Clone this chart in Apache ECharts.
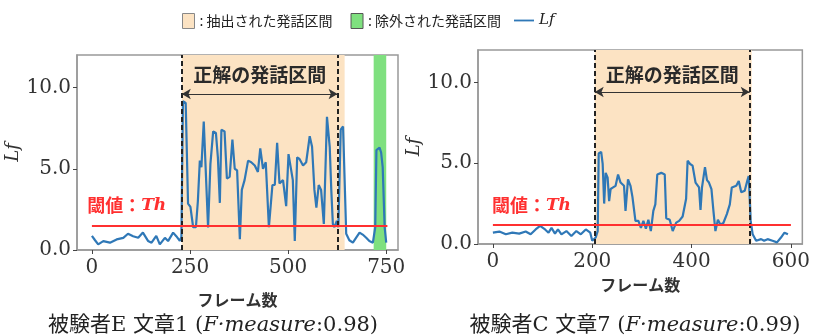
<!DOCTYPE html>
<html>
<head>
<meta charset="utf-8">
<script src="https://cdn.jsdelivr.net/npm/echarts@6/dist/echarts.min.js"></script>
<style>html,body{margin:0;padding:0;background:#fff;}#c{width:813px;height:336px;}</style>
</head>
<body>
<div id="c"></div>
<script>
// ---- Data ----
const leftFrames = [0,8,16,29,46,63,80,92,105,118,130,143,152,164,173,186,194,207,215,224,228,
  232,239,245,251,258,265,270,275,279,285,290,296,302,309,316,321,326,330,338,344,351,358,364,370,377,382,389,398,406,415,423,429,436,443,451,460,466,472,478,487,495,501,506,512,517,523,529,538,546,555,561,567,572,578,584,591,599,606,610,614,618,624,628,634,640,644,648,656,665,673,682,690,699,707,716,722,725,733,737,741,746,750];
const leftLf = [0.87,0.6,0.35,0.55,0.45,0.65,0.75,1.0,0.85,0.75,1.07,0.56,0.45,0.87,0.35,0.75,0.55,1.07,0.85,0.56,0.8,
  9.15,9.05,2.85,2.65,1.4,1.4,3.0,5.5,5.1,7.9,8.0,1.38,5.3,7.3,7.2,5.7,2.9,7.4,7.3,4.4,4.5,6.8,5.0,4.9,0.66,3.7,4.3,5.5,5.4,5.2,4.8,6.25,5.0,5.4,1.4,4.0,4.0,6.6,4.1,4.3,2.7,5.9,6.0,4.3,0.55,5.7,5.6,5.2,5.4,7.0,6.35,3.7,2.6,4.0,3.7,1.6,8.2,6.35,3.7,1.6,1.4,1.8,1.4,7.4,7.6,4.3,1.0,0.6,0.45,0.75,1.07,0.95,0.75,0.55,0.45,1.4,6.15,6.3,6.0,5.1,1.4,0.45];
const rightFrames = [0,13,26,39,53,66,76,86,95,105,112,118,125,131,138,148,158,168,177,187,196,200,207,211,
  213,218,221,224,227,231,234,237,242,247,252,257,264,267,272,277,281,287,293,298,303,308,313,318,323,327,331,339,346,349,356,362,369,375,382,389,392,397,402,408,415,418,421,427,431,435,440,444,448,453,458,464,471,477,481,490,495,500,507,512,515,
  519,523,530,540,546,553,563,572,580,587,594];
const rightLf = [0.7,0.77,0.6,0.7,0.64,0.77,0.6,0.9,1.12,0.9,0.7,1.0,0.64,0.9,0.6,0.8,0.5,0.8,0.6,0.9,0.7,0.2,0.4,0.8,
  5.6,5.7,4.95,2.5,4.4,4.1,2.65,3.4,3.5,3.6,4.3,3.8,3.6,2.05,4.0,3.6,2.9,1.43,1.43,1.0,1.43,0.95,1.5,0.8,2.05,2.45,4.3,4.4,4.3,1.6,1.5,0.8,1.32,1.43,1.7,2.8,5.15,4.95,4.85,3.8,3.5,2.1,3.5,4.75,3.95,3.8,3.4,2.05,0.8,1.5,1.2,1.3,1.85,2.45,3.5,3.6,3.9,3.2,3.3,3.9,4.2,
  1.43,0.6,0.2,0.3,0.2,0.3,0.2,0.1,0.4,0.7,0.6];

const leftXTicks = [0, 250, 500, 750];
const rightXTicks = [0, 200, 400, 600];
const yTicks = [0, 5, 10];

const leftExtracted = [229, 644];
const leftExcluded = [718, 750];
const leftTruth = [229, 626];
const leftThreshold = 1.49;
const leftLineEnd = 753;

const rightExtracted = [205, 521];
const rightTruth = [205, 517];
const rightThreshold = 1.18;
const rightLineEnd = 600;

const legendNames = ['抽出された発話区間', '除外された発話区間', 'Lf'];
const captions = ['被験者E 文章1', '被験者C 文章7'];
const fScores = ['0.98', '0.99'];

// ---- Style ----
const ORANGE = '#fce3c3';
const GREEN = '#7fe07f';
const BLUE = '#2f78b7';
const RED = '#ff3030';
const FRAME = '#999';
const SERIF = '"DejaVu Serif", "Liberation Serif", serif';
const CJK = '"Noto Sans CJK JP", sans-serif';
const CAP = '"DejaVu Serif", "Noto Sans CJK JP", serif';

function zip(a, b) { return a.map((v, i) => [v, b[i]]); }

function xAxis(idx, min, max, ticks) {
  return {
    type: 'value', gridIndex: idx, min: min, max: max,
    name: 'フレーム数', nameLocation: 'middle', nameGap: idx === 0 ? 42 : 31,
    nameTextStyle: { fontFamily: CJK, fontSize: 16, fontWeight: 'bold', color: '#333' },
    axisLine: { show: true, onZero: false, lineStyle: { color: FRAME, width: 1.5 } },
    axisTick: { show: true, length: 4, lineStyle: { color: '#444' }, customValues: ticks },
    axisLabel: { fontFamily: SERIF, fontSize: 20, color: '#333', margin: 8, customValues: ticks },
    splitLine: { show: false }
  };
}
function yAxis(idx) {
  return {
    type: 'value', gridIndex: idx, min: 0, max: 12,
    name: 'Lf', nameLocation: 'middle', nameGap: 50, nameRotate: 90,
    nameTextStyle: { fontFamily: SERIF, fontStyle: 'italic', fontSize: 18, color: '#333' },
    axisLine: { show: true, onZero: false, lineStyle: { color: FRAME, width: 1.5 } },
    axisTick: { show: true, length: 4, lineStyle: { color: '#444' }, customValues: yTicks },
    axisLabel: { fontFamily: SERIF, fontSize: 20, color: '#333', margin: 6, customValues: yTicks,
      formatter: v => v.toFixed(1) },
    splitLine: { show: false }
  };
}

function truthLines(truth, threshold, lineEnd, arrowY, labelDist) {
  return {
    silent: true, symbol: 'none', animation: false,
    data: [
      { xAxis: truth[0], lineStyle: { color: '#222', type: [5, 3], width: 2 }, label: { show: false } },
      { xAxis: truth[1], lineStyle: { color: '#222', type: [5, 3], width: 2 }, label: { show: false } },
      [ { coord: [0, threshold], lineStyle: { color: RED, type: 'solid', width: 2 }, label: { show: false } },
        { coord: [lineEnd, threshold] } ],
      [ { coord: [truth[0], arrowY], symbol: 'arrow', symbolSize: [8, 9],
          lineStyle: { color: '#333', type: 'solid', width: 1 },
          label: { show: true, position: 'middle', formatter: '正解の発話区間', distance: labelDist,
                   fontFamily: CJK, fontSize: 19, fontWeight: 'bold', color: '#2a2a2a' } },
        { coord: [truth[1], arrowY], symbol: 'arrow', symbolSize: [8, 9] } ]
    ]
  };
}

function thLabel(x, y) {
  return {
    silent: true, animation: false, symbol: 'circle', symbolSize: 0,
    data: [{ coord: [x, y], label: { show: true, position: 'right', distance: 0,
      formatter: '{a|閾値：}{b|Th}',
      rich: {
        a: { fontFamily: CJK, fontSize: 18, fontWeight: 'bold', color: RED },
        b: { fontFamily: SERIF, fontStyle: 'italic', fontWeight: 'bold', fontSize: 17, color: RED }
      } } }]
  };
}

function caption(i, x) {
  return { text: captions[i] + ' ({i|F·measure}:' + fScores[i] + ')', left: x, top: 310, textAlign: 'center',
    textStyle: { fontFamily: CAP, fontSize: 21, fontWeight: 'normal', color: '#222',
      rich: { i: { fontFamily: SERIF, fontStyle: 'italic', fontSize: 21, color: '#222' } } } };
}

const option = {
  animation: false,
  backgroundColor: '#fff',
  legend: [
    { left: 177, top: 8, itemGap: 18, itemWidth: 12, itemHeight: 15,
      data: [
        { name: legendNames[0], icon: 'rect', itemStyle: { color: ORANGE, borderColor: '#888', borderWidth: 1 } },
        { name: legendNames[1], icon: 'rect', itemStyle: { color: GREEN, borderColor: '#555', borderWidth: 1 } }
      ],
      formatter: n => ': ' + n,
      textStyle: { fontFamily: CJK, fontSize: 14, color: '#222' } },
    { left: 509, top: 8, itemWidth: 20, itemHeight: 15,
      data: [{ name: legendNames[2], icon: 'path://M0,0L22,0L22,2L0,2Z', itemStyle: { color: BLUE } }],
      formatter: () => '{i|Lf}',
      textStyle: { rich: { i: { fontFamily: SERIF, fontStyle: 'italic', fontSize: 15, color: '#222' } } } }
  ],
  title: [ caption(0, 208), caption(1, 630) ],
  grid: [
    { left: 77, top: 55, width: 321, height: 195, show: true, borderColor: FRAME, borderWidth: 1.5, backgroundColor: 'transparent' },
    { left: 478, top: 50, width: 331, height: 194, show: true, borderColor: FRAME, borderWidth: 1.5, backgroundColor: 'transparent' }
  ],
  xAxis: [ xAxis(0, -38, 780, leftXTicks), xAxis(1, -30, 623, rightXTicks) ],
  yAxis: [ yAxis(0), yAxis(1) ],
  series: [
    { name: legendNames[0], type: 'line', xAxisIndex: 0, yAxisIndex: 0, data: [], z: 1,
      itemStyle: { color: ORANGE },
      markArea: { silent: true, itemStyle: { color: ORANGE }, data: [[{ xAxis: leftExtracted[0] }, { xAxis: leftExtracted[1] }]] } },
    { name: legendNames[0], type: 'line', xAxisIndex: 1, yAxisIndex: 1, data: [], z: 1,
      itemStyle: { color: ORANGE },
      markArea: { silent: true, itemStyle: { color: ORANGE }, data: [[{ xAxis: rightExtracted[0] }, { xAxis: rightExtracted[1] }]] } },
    { name: legendNames[1], type: 'line', xAxisIndex: 0, yAxisIndex: 0, data: [], z: 1,
      itemStyle: { color: GREEN },
      markArea: { silent: true, itemStyle: { color: GREEN }, data: [[{ xAxis: leftExcluded[0] }, { xAxis: leftExcluded[1] }]] } },
    { name: legendNames[2], type: 'line', xAxisIndex: 0, yAxisIndex: 0, z: 3,
      data: zip(leftFrames, leftLf), showSymbol: false,
      lineStyle: { color: BLUE, width: 2.2 }, itemStyle: { color: BLUE },
      markLine: truthLines(leftTruth, leftThreshold, leftLineEnd, 9.6, 10),
      markPoint: thLabel(-12, 2.75) },
    { name: legendNames[2], type: 'line', xAxisIndex: 1, yAxisIndex: 1, z: 3,
      data: zip(rightFrames, rightLf), showSymbol: false,
      lineStyle: { color: BLUE, width: 2.2 }, itemStyle: { color: BLUE },
      markLine: truthLines(rightTruth, rightThreshold, rightLineEnd, 9.4, 8),
      markPoint: thLabel(-2, 2.4) }
  ]
};

const chart = echarts.init(document.getElementById('c'), null, { renderer: 'canvas' });
chart.setOption(option);
</script>
</body>
</html>
